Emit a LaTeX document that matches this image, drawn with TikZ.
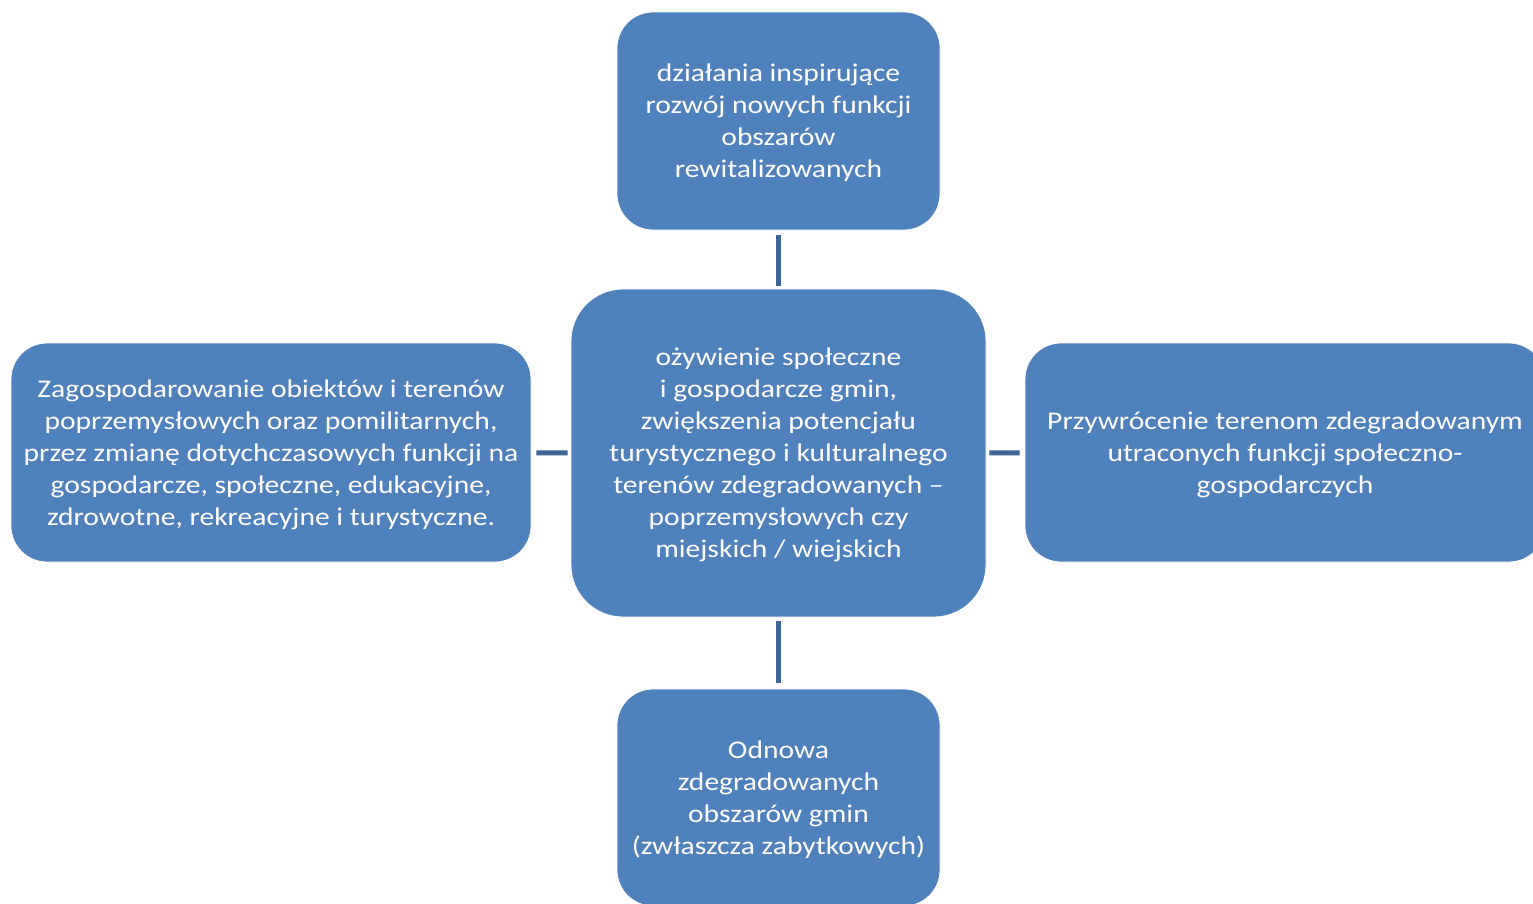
\documentclass[tikz,border=0pt]{standalone}
\usepackage{fontspec}
\setmainfont{Carlito}[FakeStretch=1.16]
\definecolor{boxblue}{HTML}{4F81BD}
\definecolor{connblue}{HTML}{3C6497}
\begin{document}
\begin{tikzpicture}[x=1pt,y=-1pt,
  box/.style={rectangle, fill=boxblue, draw=white, line width=0.8pt, inner sep=0pt},
  txt/.style={text=white, align=center, inner sep=0pt, yshift=-2pt,
    font=\fontsize{25.5}{32}\selectfont},
  conn/.style={draw=connblue, line width=5pt}]
\useasboundingbox (0,0) rectangle (1533,903);
\node[box, minimum width=323, minimum height=218, rounded corners=36,
  label={[txt]center:{działania inspirujące\\rozwój nowych funkcji\\obszarów\\rewitalizowanych}}] (top) at (778.5,121) {};
\node[box, minimum width=415, minimum height=328, rounded corners=52,
  label={[txt]center:{ożywienie społeczne\\i gospodarcze gmin,\\zwiększenia potencjału\\turystycznego i kulturalnego\\terenów zdegradowanych –\\poprzemysłowych czy\\miejskich / wiejskich}}] (mid) at (778.5,453) {};
\node[box, minimum width=520, minimum height=219, rounded corners=36,
  label={[txt]center:{Zagospodarowanie obiektów i terenów\\poprzemysłowych oraz pomilitarnych,\\przez zmianę dotychczasowych funkcji na\\gospodarcze, społeczne, edukacyjne,\\zdrowotne, rekreacyjne i turystyczne.}}] (left) at (271,452.5) {};
\node[box, minimum width=520, minimum height=219, rounded corners=36,
  label={[txt]center:{Przywrócenie terenom zdegradowanym\\utraconych funkcji społeczno-\\gospodarczych}}] (right) at (1285,452.5) {};
\node[box, minimum width=323, minimum height=217, rounded corners=36,
  label={[txt]center:{Odnowa\\zdegradowanych\\obszarów gmin\\(zwłaszcza zabytkowych)}}] (bot) at (778.5,797.5) {};
\draw[conn, shorten <=5pt, shorten >=3pt] (top) -- (mid);
\draw[conn, shorten <=4pt, shorten >=6pt] (mid) -- (bot);
\draw[conn, shorten <=5pt, shorten >=3pt] (left) -- (mid);
\draw[conn, shorten <=3pt, shorten >=5pt] (mid) -- (right);
\end{tikzpicture}
\end{document}
